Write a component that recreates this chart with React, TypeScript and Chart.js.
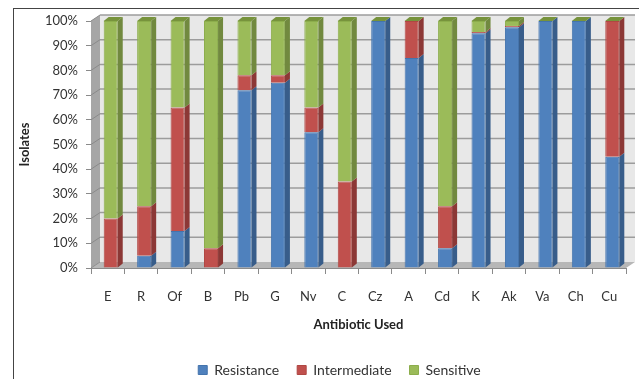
import React, { useEffect, useRef } from "react";
import { Chart, registerables } from "chart.js";

Chart.register(...registerables);

const categories = ["E", "R", "Of", "B", "Pb", "G", "Nv", "C", "Cz", "A", "Cd", "K", "Ak", "Va", "Ch", "Cu"];
const resistance = [0, 5, 15, 0, 72, 75, 55, 0, 100, 85, 8, 95, 97.5, 100, 100, 45];
const intermediate = [20, 20, 50, 8, 6, 3, 10, 35, 0, 15, 17, 0.5, 0.5, 0, 0, 55];
const sensitive = [80, 75, 35, 92, 22, 22, 35, 65, 0, 0, 75, 4.5, 2, 0, 0, 0];
const seriesNames = ["Resistance", "Intermediate", "Sensitive"];
const yTicks = [0, 10, 20, 30, 40, 50, 60, 70, 80, 90, 100];

const FRONT = ["#4f81bd", "#c0504d", "#9bbb59"];
const EDGE = ["#4474ad", "#b04743", "#8cad4c"];
const SIDE = ["#385d8a", "#8c3836", "#71893f"];
const TOP = ["#4a7ebb", "#b84c49", "#77933c"];

const DX = 9, DY = -6; // wall depth
const BDX = 5, BDY = -4; // bar depth
const SHIFT = 3;

function poly(ctx: CanvasRenderingContext2D, pts: number[][], fill: string) {
  ctx.beginPath();
  ctx.moveTo(pts[0][0], pts[0][1]);
  for (let i = 1; i < pts.length; i++) ctx.lineTo(pts[i][0], pts[i][1]);
  ctx.closePath();
  ctx.fillStyle = fill;
  ctx.fill();
}

const threeD = {
  id: "threeD",
  beforeDatasetsDraw(chart: any) {
    const { ctx, chartArea: a, scales } = chart;
    const y = scales.y;
    const bTop = a.top + DY, bBot = a.bottom + DY;
    ctx.save();
    ctx.fillStyle = "#e8e8e8";
    ctx.fillRect(a.left + DX, bTop, a.right - a.left, bBot - bTop);
    poly(ctx, [[a.left, a.top], [a.left + DX, bTop], [a.left + DX, bBot], [a.left, a.bottom]], "#a6a6a6");
    poly(ctx, [[a.left, a.bottom], [a.left + DX, bBot], [a.right + DX, bBot], [a.right, a.bottom]], "#b7b7b7");
    yTicks.forEach((v) => {
      const yy = y.getPixelForValue(v);
      if (v > 0) {
        ctx.strokeStyle = "#9c9c9c";
        ctx.lineWidth = 1.5;
        ctx.beginPath();
        ctx.moveTo(a.left + DX, yy + DY);
        ctx.lineTo(a.right + DX, yy + DY);
        ctx.stroke();
      }
      ctx.strokeStyle = "#8a8a8a";
      ctx.lineWidth = 1;
      ctx.beginPath();
      ctx.moveTo(a.left, yy);
      ctx.lineTo(a.left + DX, yy + DY);
      ctx.stroke();
    });
    ctx.restore();
    ctx.save();
    ctx.translate(SHIFT, 0);
  },
  afterDatasetsDraw(chart: any) {
    const { ctx } = chart;
    const metas = [0, 1, 2].map((i) => chart.getDatasetMeta(i));
    const data = [resistance, intermediate, sensitive];
    for (let j = 0; j < categories.length; j++) {
      for (let i = 0; i < 3; i++) {
        const el = metas[i].data[j];
        const p = el.getProps(["x", "y", "base", "width"], true);
        const x2 = p.x + p.width / 2;
        if (data[i][j] > 0) {
          poly(ctx, [[x2, p.y], [x2 + BDX, p.y + BDY], [x2 + BDX, p.base + BDY], [x2, p.base]], SIDE[i]);
        }
        if (i === 2) {
          const x1 = p.x - p.width / 2;
          poly(ctx, [[x1, p.y], [x1 + BDX, p.y + BDY], [x2 + BDX, p.y + BDY], [x2, p.y]], TOP[2]);
        }
      }
    }
    ctx.restore();
  },
};

export default function App() {
  const ref = useRef<HTMLCanvasElement>(null);
  useEffect(() => {
    if (!ref.current) return;
    const font = "Lato, 'Open Sans', sans-serif";
    const chart = new Chart(ref.current, {
      type: "bar",
      data: {
        labels: categories,
        datasets: [resistance, intermediate, sensitive].map((d, i) => ({
          label: seriesNames[i],
          data: d,
          backgroundColor: FRONT[i],
          borderColor: EDGE[i],
          borderWidth: 1,
          barPercentage: 0.42,
          categoryPercentage: 1,
        })),
      },
      options: {
        responsive: false,
        animation: false,
        layout: { padding: { left: 0, right: -40, top: 21, bottom: 0 } },
        plugins: {
          legend: {
            position: "bottom",
            labels: {
              boxWidth: 9,
              boxHeight: 9,
              padding: 18,
              color: "#333",
              font: { family: font, size: 14 },
            },
          },
          tooltip: { enabled: false },
        },
        scales: {
          x: {
            stacked: true,
            grid: { display: true, offset: true, drawOnChartArea: false, tickLength: 6, color: "#8a8a8a" },
            border: { display: true, color: "#8a8a8a" },
            ticks: { color: "#333", font: { family: font, size: 13 }, padding: 15, maxRotation: 0 },
            title: {
              display: true,
              text: "Antibiotic Used",
              color: "#222",
              font: { family: font, size: 13, weight: "bold" },
              padding: { top: 0, bottom: 12 },
            },
            afterFit: (s: any) => {
              s.height = 77;
            },
          },
          y: {
            stacked: true,
            min: 0,
            max: 100,
            grid: { display: true, drawOnChartArea: false, tickLength: 5, color: "#8a8a8a" },
            border: { display: true, color: "#8a8a8a" },
            ticks: {
              stepSize: 10,
              padding: 8,
              color: "#333",
              font: { family: font, size: 13 },
              callback: (v: any) => v + "%",
            },
            title: {
              display: true,
              text: "Isolates",
              color: "#222",
              font: { family: font, size: 13, weight: "bold" },
              padding: { top: 17, bottom: 0 },
            },
            afterFit: (s: any) => {
              s.width = 91;
            },
          },
          spacer: {
            type: "linear",
            position: "right",
            display: true,
            grid: { display: false },
            border: { display: false },
            ticks: { display: false },
            afterFit: (s: any) => {
              s.width = 53;
            },
          },
        },
      },
      plugins: [threeD],
    });
    return () => chart.destroy();
  }, []);

  return (
    <div style={{ position: "fixed", left: 0, top: 0, width: 639, height: 379, overflow: "hidden", background: "#fff" }}>
      <div
        style={{
          position: "absolute",
          left: 13,
          top: 8,
          width: 700,
          height: 500,
          borderLeft: "1px solid #444",
          borderTop: "1px solid #444",
        }}
      />
      <canvas ref={ref} width={639} height={387} style={{ position: "absolute", left: 0, top: 0, display: "block" }} />
    </div>
  );
}
